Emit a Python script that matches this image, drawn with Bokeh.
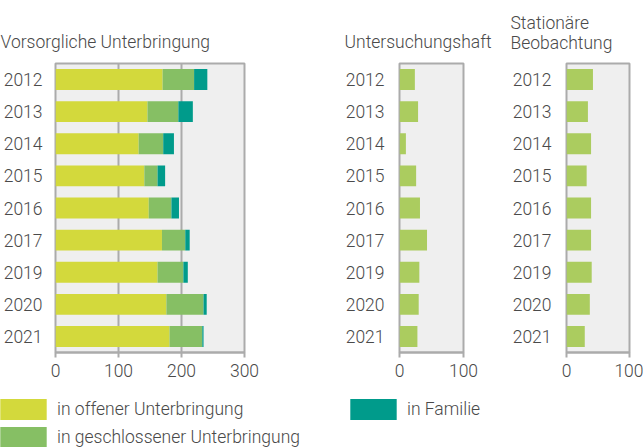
from bokeh.plotting import figure
from bokeh.models import FactorRange, Range1d, Legend, LegendItem, FixedTicker, ColumnDataSource
from bokeh.layouts import row, column
from bokeh.embed import file_html
from bokeh.resources import INLINE

years = ["2012", "2013", "2014", "2015", "2016", "2017", "2019", "2020", "2021"]
offen = [170, 146, 132, 141, 148, 169, 162, 176, 181]
geschlossen = [50, 49, 39, 21, 36, 37, 41, 59, 52]
familie = [21, 23, 17, 12, 12, 7, 7, 5, 2]
u_haft = [24, 29, 10, 26, 32, 43, 31, 30, 28]
stationaer = [42, 34, 39, 32, 39, 39, 40, 37, 29]

series_names = ["in offener Unterbringung", "in geschlossener Unterbringung", "in Familie"]
panel_titles = ["Vorsorgliche Unterbringung", "Untersuchungshaft", "Stationäre\nBeobachtung"]
ticks_main = [0, 100, 200, 300]
ticks_small = [0, 100]

C_YEL = "#d3d93c"
C_GRN = "#86bf64"
C_TEAL = "#009b8b"
C_LGRN = "#abcc5f"
TXT = "#4a4a4a"
GRID = "#ababab"
FONT = "Roboto Light"
FS = "17.5px"


def make_panel(width, bl, br, xmax, ticks, title, ystandoff, toff, tstand):
    p = figure(width=width, height=385, y_range=FactorRange(*reversed(years)),
               x_range=Range1d(0, xmax), output_backend="svg", toolbar_location=None,
               min_border_left=bl, min_border_right=br, min_border_top=63, min_border_bottom=33)
    p.background_fill_color = "#efefef"
    p.border_fill_color = "white"
    p.outline_line_color = GRID
    p.outline_line_width = 2
    p.ygrid.visible = False
    p.xaxis.ticker = FixedTicker(ticks=ticks)
    p.xgrid.grid_line_color = GRID
    p.xgrid.grid_line_width = 2
    p.xaxis.axis_line_color = GRID
    p.xaxis.axis_line_width = 2
    p.xaxis.major_tick_line_color = GRID
    p.xaxis.major_tick_line_width = 2
    p.xaxis.major_tick_in = 0
    p.xaxis.major_tick_out = 5
    p.xaxis.minor_tick_line_color = None
    p.xaxis.major_label_standoff = 6
    p.yaxis.axis_line_color = None
    p.yaxis.major_tick_line_color = None
    p.yaxis.minor_tick_line_color = None
    p.yaxis.major_tick_out = 0
    p.yaxis.major_tick_in = 0
    p.yaxis.major_label_standoff = ystandoff
    for ax in (p.xaxis[0], p.yaxis[0]):
        ax.major_label_text_font = FONT
        ax.major_label_text_font_size = FS
        ax.major_label_text_color = TXT
    p.title.text = title
    p.title.align = "left"
    p.title.offset = toff
    p.title.standoff = tstand
    p.title.text_font = FONT
    p.title.text_font_size = FS
    p.title.text_font_style = "normal"
    p.title.text_color = TXT
    return p


src = ColumnDataSource(dict(year=years, offen=offen, geschlossen=geschlossen, familie=familie,
                            u_haft=u_haft, stationaer=stationaer))

p1 = make_panel(330, 55, 86, 300, ticks_main, panel_titles[0], 13, -55, 24)
p1.hbar_stack(["offen", "geschlossen", "familie"], y="year", height=0.65,
              color=[C_YEL, C_GRN, C_TEAL], line_color=None, source=src)

p2 = make_panel(170, 69, 37, 100, ticks_small, panel_titles[1], 15, -55, 24)
p2.hbar(y="year", right="u_haft", left=0, height=0.65, color=C_LGRN, line_color=None, source=src)

p3 = make_panel(143, 66, 14, 100, ticks_small, panel_titles[2], 15, -56, 21)
p3.hbar(y="year", right="stationaer", left=0, height=0.65, color=C_LGRN, line_color=None, source=src)

pl = figure(width=643, height=62, x_range=Range1d(0, 1), y_range=Range1d(0, 1),
            output_backend="svg", toolbar_location=None, min_border=0)
pl.axis.visible = False
pl.grid.visible = False
pl.outline_line_color = None
pl.background_fill_color = "white"
nan = float("nan")
rs = [pl.hbar(y=[nan], left=[nan], right=[nan], height=0.5, color=c, line_color=None)
      for c in (C_YEL, C_GRN, C_TEAL)]


def style_legend(lg):
    lg.glyph_width = 58
    lg.glyph_height = 26
    lg.label_height = 26
    lg.label_standoff = 5
    lg.spacing = 2
    lg.padding = 0
    lg.margin = 0
    lg.border_line_color = None
    lg.background_fill_alpha = 0
    lg.label_text_font = FONT
    lg.label_text_font_size = FS
    lg.label_text_color = TXT


lg1 = Legend(items=[LegendItem(label=series_names[0], renderers=[rs[0]]),
                    LegendItem(label=series_names[1], renderers=[rs[1]])],
             location=(-6, -3))
lg2 = Legend(items=[LegendItem(label=series_names[2], renderers=[rs[2]])],
             location=(344, 25))
style_legend(lg1)
style_legend(lg2)
pl.add_layout(lg1)
pl.add_layout(lg2)

layout = column(row(p1, p2, p3), pl)
html = file_html(layout, INLINE)
html = html.replace("</head>", "<style>body{margin:0;}</style></head>", 1)
open("out.html", "w").write(html)
